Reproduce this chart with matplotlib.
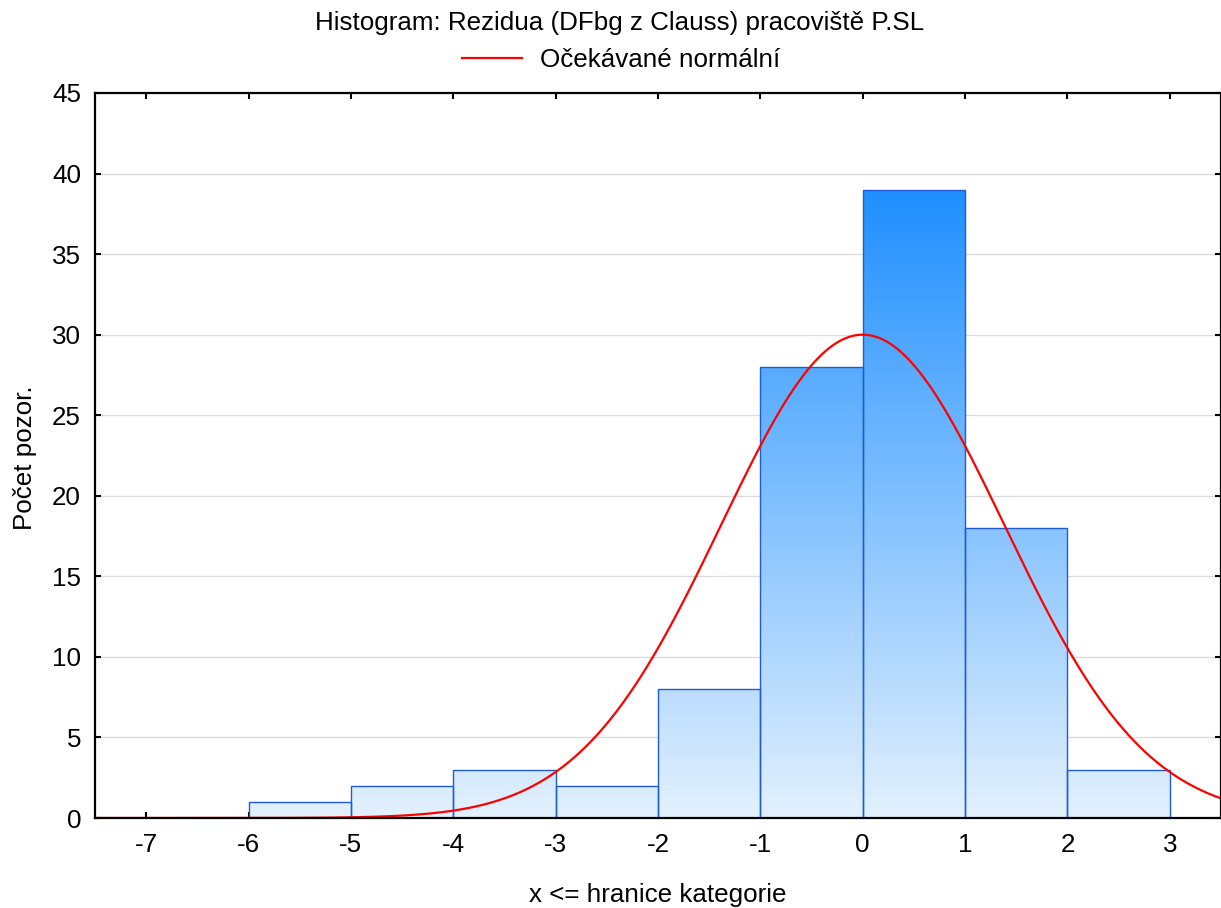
import numpy as np
import matplotlib
matplotlib.use("Agg")
import matplotlib.pyplot as plt
from matplotlib.lines import Line2D

plt.rcParams['font.family'] = ['Liberation Sans', 'DejaVu Sans']
plt.rcParams['axes.unicode_minus'] = False

# Histogram data: left edges of unit-width classes and their counts
bin_left = [-8, -7, -6, -5, -4, -3, -2, -1, 0, 1, 2]
counts = [0, 0, 1, 2, 3, 2, 8, 28, 39, 18, 3]
bin_width = 1.0

# Fitted normal distribution parameters for the expected curve
fit_mean = 0.0
fit_sd = 1.383

x_ticks = [-7, -6, -5, -4, -3, -2, -1, 0, 1, 2, 3]
y_ticks = [0, 5, 10, 15, 20, 25, 30, 35, 40, 45]
x_range = (-7.5, 3.5)
y_range = (0, 45)

title = "Histogram: Rezidua (DFbg z Clauss) pracoviště P.SL"
legend_label = "Očekávané normální"
x_label = "x <= hranice kategorie"
y_label = "Počet pozor."

FS = 18.7
W, H = 1221, 908
fig = plt.figure(figsize=(W / 100, H / 100), dpi=100)
ax = fig.add_axes([95 / W, 1 - 818 / H, (W - 95) / W, (818 - 93) / H])
ax.set_xlim(*x_range)
ax.set_ylim(*y_range)

# horizontal grid
for yt in y_ticks[1:-1]:
    ax.axhline(yt, color='#dcdcdc', lw=1.0, zorder=0)

# vertical gradient shared by all bars (light at zero, saturated at the tallest bar)
light = np.array([0.89, 0.945, 0.995])
dark = np.array([0.12, 0.56, 1.0])
ys = np.linspace(y_range[0], y_range[1], 500)
frac = np.clip(ys / max(counts), 0, 1)[:, None]
grad = light + (dark - light) * frac
grad = grad[::-1][:, None, :]

bars = ax.bar(bin_left, counts, width=bin_width, align='edge',
              facecolor='none', edgecolor='#1f5bd8', linewidth=1.0, zorder=3)
for patch, c in zip(bars, counts):
    if c <= 0:
        continue
    im = ax.imshow(grad, extent=(x_range[0], x_range[1], y_range[0], y_range[1]),
                   aspect='auto', interpolation='bilinear', zorder=2)
    im.set_clip_path(patch)

# expected normal frequency curve
xs = np.linspace(x_range[0], x_range[1], 600)
n_total = sum(counts)
expected = n_total * bin_width / (fit_sd * np.sqrt(2 * np.pi)) * \
    np.exp(-0.5 * ((xs - fit_mean) / fit_sd) ** 2)
ax.plot(xs, expected, color='red', lw=1.6, zorder=4)

ax.set_xticks(x_ticks)
ax.set_yticks(y_ticks)
ax.tick_params(direction='in', length=4.5, width=1.5, top=True, right=True,
               labelsize=FS, colors='black')
ax.tick_params(axis='x', pad=11)
ax.tick_params(axis='y', pad=10)
for s in ax.spines.values():
    s.set_linewidth(1.6)
    s.set_zorder(5)

fig.text(620 / W, 1 - 23 / H, title, ha='center', va='center', fontsize=FS)
fig.legend([Line2D([0], [0], color='red', lw=1.6)], [legend_label],
           loc='center', bbox_to_anchor=(621 / W, 1 - 60 / H), frameon=False,
           fontsize=FS, handlelength=2.3, handletextpad=0.7)
fig.text(658 / W, 1 - 895 / H, x_label, ha='center', va='center', fontsize=FS)
fig.text(25 / W, 1 - 458 / H, y_label, ha='center', va='center',
         rotation=90, fontsize=FS)

fig.savefig('out.png', dpi=100)
